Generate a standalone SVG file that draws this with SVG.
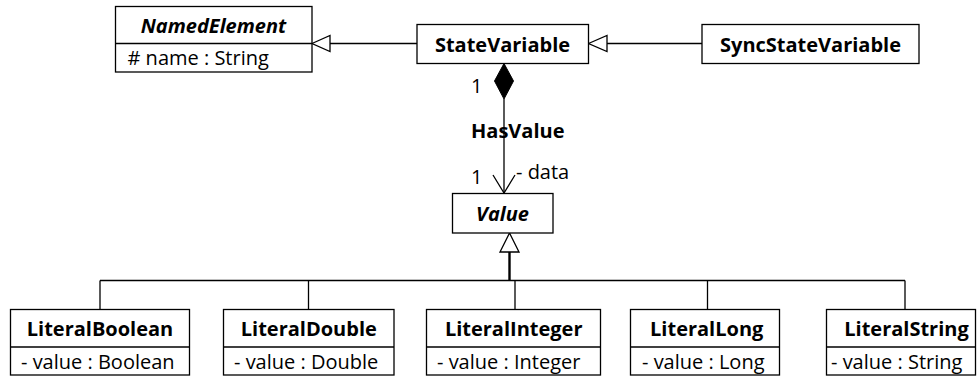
<svg xmlns="http://www.w3.org/2000/svg" width="977" height="376" viewBox="0 0 977 376">
<style>
  text { font-family: "Open Sans", "Noto Sans", "DejaVu Sans", sans-serif; font-size: 20px; fill: #000; }
  .name { font-weight: bold; text-anchor: middle; }
  .abs { font-weight: bold; font-style: italic; text-anchor: middle; }
  .box { fill: #fff; stroke: #000; stroke-width: 1.3; }
  .line { fill: none; stroke: #000; stroke-width: 1.3; }
  .trunk { fill: none; stroke: #000; stroke-width: 2.4; }
  .hollow { fill: #fff; stroke: #000; stroke-width: 1.3; }
  .solid { fill: #000; stroke: #000; stroke-width: 1; }
</style>
<rect x="0" y="0" width="977" height="376" fill="#fff"/>

<g id="connectors">
  <!-- StateVariable -> NamedElement generalization -->
  <line class="line" x1="417" y1="43.5" x2="330" y2="43.5"/>
  <polygon class="hollow" points="312,43.5 330,35.5 330,51.5"/>
  <!-- SyncStateVariable -> StateVariable generalization -->
  <line class="line" x1="702" y1="43.5" x2="607" y2="43.5"/>
  <polygon class="hollow" points="588.5,43.5 607,35.5 607,51.5"/>
  <!-- HasValue composition -->
  <polygon class="solid" points="504,63.5 494.5,81 504,99 513.5,81"/>
  <line class="line" x1="504" y1="99" x2="504" y2="193"/>
  <polyline class="line" points="493,175 504,193 515,175"/>
  <text x="471" y="93">1</text>
  <text x="471" y="138" style="font-weight:bold">HasValue</text>
  <text x="471" y="184">1</text>
  <text x="516" y="179">- data</text>
  <!-- Value generalization tree -->
  <polygon class="hollow" points="509.5,233 500,252 519,252"/>
  <line class="trunk" x1="509.5" y1="252" x2="509.5" y2="281"/>
  <line class="line" x1="100" y1="280.5" x2="905" y2="280.5"/>
  <line class="line" x1="100" y1="280.5" x2="100" y2="309"/>
  <line class="line" x1="308.5" y1="280.5" x2="308.5" y2="309"/>
  <line class="line" x1="515" y1="280.5" x2="515" y2="309"/>
  <line class="line" x1="707.5" y1="280.5" x2="707.5" y2="309"/>
  <line class="line" x1="905" y1="280.5" x2="905" y2="309"/>
</g>

<g id="NamedElement">
  <rect class="box" x="115.5" y="6.5" width="196.5" height="65.5"/>
  <line class="line" x1="115.5" y1="43.5" x2="312" y2="43.5"/>
  <text class="abs" x="213.5" y="33">NamedElement</text>
  <text x="127.5" y="65">#&#160;name : String</text>
</g>

<g id="StateVariable">
  <rect class="box" x="417" y="24.5" width="171.5" height="39"/>
  <text class="name" x="502.5" y="52">StateVariable</text>
</g>

<g id="SyncStateVariable">
  <rect class="box" x="702" y="24.5" width="217" height="39"/>
  <text class="name" x="810.5" y="52">SyncStateVariable</text>
</g>

<g id="Value">
  <rect class="box" x="452.5" y="193.5" width="100.5" height="39.5"/>
  <text class="abs" x="502.5" y="221">Value</text>
</g>

<g id="LiteralBoolean">
  <rect class="box" x="10.5" y="309.5" width="179" height="65.5"/>
  <line class="line" x1="10.5" y1="347" x2="189.5" y2="347"/>
  <text class="name" x="100" y="336">LiteralBoolean</text>
  <text x="21" y="368.5">- value : Boolean</text>
</g>

<g id="LiteralDouble">
  <rect class="box" x="223.5" y="309.5" width="170.5" height="65.5"/>
  <line class="line" x1="223.5" y1="347" x2="394" y2="347"/>
  <text class="name" x="308.8" y="336">LiteralDouble</text>
  <text x="234" y="368.5">- value : Double</text>
</g>

<g id="LiteralInteger">
  <rect class="box" x="426.5" y="309.5" width="174" height="65.5"/>
  <line class="line" x1="426.5" y1="347" x2="600.5" y2="347"/>
  <text class="name" x="513.7" y="336">LiteralInteger</text>
  <text x="437" y="368.5">- value : Integer</text>
</g>

<g id="LiteralLong">
  <rect class="box" x="630.5" y="309.5" width="149" height="65.5"/>
  <line class="line" x1="630.5" y1="347" x2="779.5" y2="347"/>
  <text class="name" x="706.7" y="336">LiteralLong</text>
  <text x="642" y="368.5">- value : Long</text>
</g>

<g id="LiteralString">
  <rect class="box" x="826.5" y="309.5" width="149" height="65.5"/>
  <line class="line" x1="826.5" y1="347" x2="975.5" y2="347"/>
  <text class="name" x="906.5" y="336">LiteralString</text>
  <text x="831" y="368.5">- value : String</text>
</g>
</svg>
